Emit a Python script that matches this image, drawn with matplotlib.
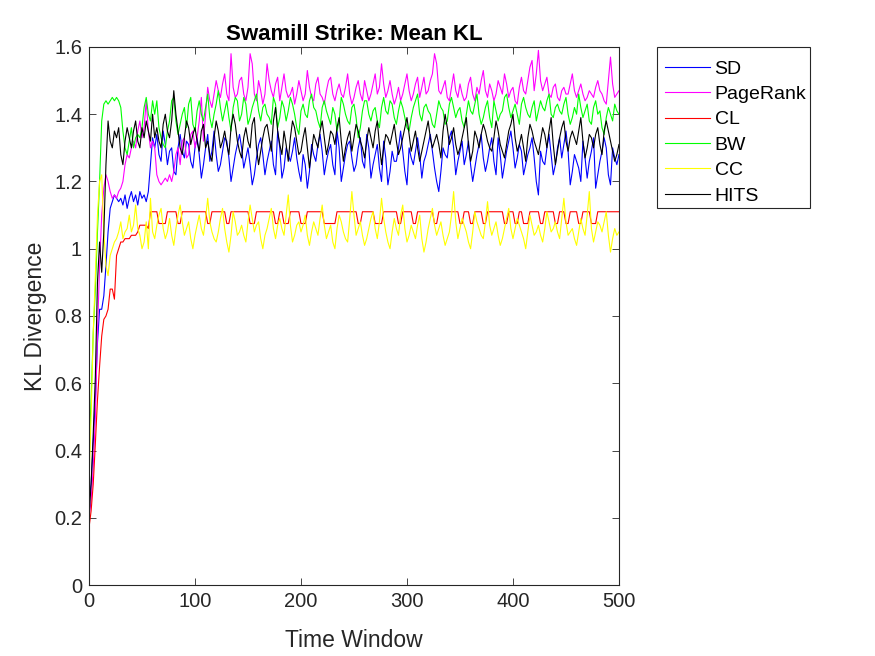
import matplotlib
matplotlib.use("Agg")
import matplotlib.pyplot as plt
from matplotlib.patches import Rectangle

plt.rcParams['font.family'] = ['Liberation Sans', 'DejaVu Sans']

# time windows, every second one
t = list(range(0, 501, 2))

H, L = 1.11, 1.075

sd = [0.25, 0.30, 0.42, 0.55, 0.72, 0.82, 0.82, 0.86, 0.95, 1.05, 1.12, 1.14, 1.16, 1.15, 1.14, 1.15,
      1.13, 1.16, 1.12, 1.15, 1.17, 1.14, 1.16, 1.13, 1.17, 1.15, 1.16, 1.14, 1.17, 1.25, 1.33,
      1.30, 1.34, 1.28, 1.26, 1.35, 1.31, 1.25, 1.29, 1.30, 1.23,
      1.22, 1.30, 1.34, 1.29, 1.27, 1.32, 1.31, 1.26, 1.24, 1.30,
      1.33, 1.28, 1.21, 1.25, 1.30, 1.34, 1.26, 1.29, 1.35, 1.28,
      1.23, 1.25, 1.29, 1.33, 1.32, 1.27, 1.20, 1.24, 1.28, 1.31,
      1.34, 1.30, 1.24, 1.27, 1.30, 1.25, 1.19, 1.22, 1.27, 1.31,
      1.33, 1.28, 1.22, 1.26, 1.29, 1.32, 1.25, 1.22, 1.35, 1.30,
      1.21, 1.24, 1.30, 1.28, 1.26, 1.29, 1.33, 1.27, 1.23, 1.20,
      1.28, 1.25, 1.18, 1.23, 1.31, 1.28, 1.26, 1.31, 1.34, 1.29,
      1.22, 1.26, 1.29, 1.31, 1.25, 1.22, 1.35, 1.30, 1.20, 1.24,
      1.28, 1.31, 1.32, 1.27, 1.23, 1.25, 1.30, 1.33, 1.26, 1.24,
      1.34, 1.30, 1.21, 1.25, 1.28, 1.31, 1.24, 1.20, 1.32, 1.27,
      1.19, 1.23, 1.29, 1.26, 1.26, 1.30, 1.35, 1.29, 1.23, 1.19,
      1.30, 1.27, 1.25, 1.29, 1.33, 1.28, 1.21, 1.26, 1.28, 1.31,
      1.34, 1.29, 1.24, 1.20, 1.17, 1.23, 1.30, 1.28, 1.27, 1.33,
      1.35, 1.30, 1.22, 1.26, 1.29, 1.32, 1.25, 1.28, 1.32, 1.25,
      1.20, 1.24, 1.28, 1.31, 1.34, 1.27, 1.23, 1.26, 1.30, 1.33,
      1.26, 1.22, 1.33, 1.28, 1.21, 1.25, 1.29, 1.32, 1.35, 1.30,
      1.24, 1.27, 1.31, 1.29, 1.22, 1.25, 1.28, 1.30, 1.33, 1.27,
      1.20, 1.16, 1.29, 1.26, 1.25, 1.30, 1.34, 1.28, 1.22, 1.25,
      1.30, 1.33, 1.27, 1.31, 1.35, 1.29, 1.19, 1.23, 1.28, 1.26,
      1.24, 1.20, 1.32, 1.27, 1.21, 1.26, 1.29, 1.33, 1.18, 1.22,
      1.26, 1.29, 1.33, 1.30, 1.22, 1.19, 1.30, 1.27, 1.25, 1.28]

pagerank = [0.20, 0.25, 0.35, 0.50, 0.75, 0.95, 1.10, 1.18, 1.22, 1.20, 1.17, 1.15, 1.16, 1.15, 1.17, 1.18,
            1.20, 1.25, 1.28, 1.27, 1.30, 1.32, 1.30, 1.35, 1.38, 1.33, 1.36, 1.44, 1.35, 1.30, 1.32,
            1.30, 1.22, 1.20, 1.19, 1.20, 1.21, 1.20, 1.22, 1.20, 1.23,
            1.28, 1.30, 1.25, 1.32, 1.33, 1.27, 1.28, 1.34, 1.35, 1.30,
            1.33, 1.38, 1.45, 1.32, 1.40, 1.48, 1.44, 1.42, 1.46, 1.50,
            1.47, 1.45, 1.49, 1.52, 1.46, 1.44, 1.58, 1.48, 1.45, 1.46,
            1.50, 1.51, 1.46, 1.44, 1.48, 1.58, 1.55, 1.46, 1.44, 1.50,
            1.47, 1.43, 1.46, 1.55, 1.50, 1.47, 1.45, 1.49, 1.51, 1.44,
            1.48, 1.52, 1.47, 1.45, 1.46, 1.48, 1.43, 1.46, 1.50, 1.47,
            1.44, 1.46, 1.53, 1.48, 1.45, 1.44, 1.49, 1.51, 1.46, 1.45,
            1.43, 1.47, 1.50, 1.51, 1.46, 1.44, 1.47, 1.49, 1.46, 1.45,
            1.48, 1.52, 1.46, 1.43, 1.45, 1.48, 1.50, 1.46, 1.44, 1.50,
            1.47, 1.44, 1.46, 1.49, 1.52, 1.46, 1.48, 1.55, 1.49, 1.45,
            1.47, 1.50, 1.46, 1.43, 1.45, 1.48, 1.44, 1.46, 1.49, 1.52,
            1.47, 1.44, 1.46, 1.49, 1.51, 1.45, 1.48, 1.51, 1.46, 1.47,
            1.50, 1.52, 1.58, 1.55, 1.47, 1.46, 1.48, 1.50, 1.45, 1.44,
            1.48, 1.52, 1.47, 1.45, 1.49, 1.46, 1.44, 1.45, 1.49, 1.51,
            1.46, 1.44, 1.48, 1.46, 1.50, 1.53, 1.47, 1.45, 1.49, 1.47,
            1.44, 1.46, 1.50, 1.48, 1.46, 1.52, 1.49, 1.45, 1.47, 1.48,
            1.44, 1.43, 1.48, 1.51, 1.47, 1.46, 1.50, 1.54, 1.56, 1.47,
            1.52, 1.59, 1.50, 1.47, 1.49, 1.51, 1.46, 1.45, 1.48, 1.49,
            1.45, 1.44, 1.47, 1.48, 1.46, 1.46, 1.49, 1.52, 1.47, 1.45,
            1.47, 1.49, 1.46, 1.44, 1.45, 1.47, 1.46, 1.45, 1.48, 1.50,
            1.47, 1.46, 1.44, 1.43, 1.50, 1.57, 1.49, 1.45, 1.46, 1.47]

cl = [0.17, 0.22, 0.30, 0.42, 0.55, 0.65, 0.74, 0.79, 0.80, 0.82, 0.88, 0.88, 0.85, 0.98, 1.00, 1.02,
      1.02, 1.03, 1.03, 1.03, 1.04, 1.04, 1.04, 1.05, 1.07, 1.07, 1.07, 1.07, 1.06, 1.11, 1.11,
      H, H, L, L, L, L, H, H, H, H,
      H, L, L, H, H, H, H, H, H, H,
      H, H, H, H, H, L, L, H, H, H,
      H, H, H, H, L, L, H, H, H, H,
      H, H, H, H, H, L, L, L, H, H,
      H, H, H, H, H, H, H, L, L, H,
      H, L, L, L, H, H, H, H, H, L,
      L, L, H, H, H, H, H, H, H, H,
      L, L, L, L, L, L, H, H, H, H,
      H, H, H, H, H, H, L, L, H, H,
      H, H, H, H, L, L, L, L, H, H,
      H, H, H, H, H, L, L, H, H, H,
      H, H, L, L, H, H, H, H, H, H,
      H, H, L, L, H, H, H, H, H, H,
      H, H, H, H, L, L, H, H, H, L,
      L, H, H, H, H, L, L, H, H, H,
      H, H, H, H, H, L, L, H, H, H,
      L, L, H, H, L, L, L, H, H, H,
      H, H, L, L, H, H, H, H, H, L,
      L, H, H, H, L, L, H, H, H, H,
      L, L, H, H, H, H, L, L, L, H,
      H, H, H, H, H, H, H, H, H, H]

bw = [0.40, 0.55, 0.75, 0.88, 1.05, 1.20, 1.38, 1.43, 1.44, 1.43, 1.44, 1.45, 1.44, 1.45, 1.44, 1.42,
      1.35, 1.30, 1.28, 1.32, 1.36, 1.30, 1.33, 1.34, 1.33, 1.36, 1.42, 1.45, 1.40, 1.38, 1.44,
      1.40, 1.44, 1.36, 1.33, 1.31, 1.30, 1.35, 1.38, 1.44, 1.45,
      1.38, 1.34, 1.37, 1.40, 1.42, 1.36, 1.43, 1.45, 1.37, 1.35,
      1.41, 1.44, 1.40, 1.38, 1.42, 1.46, 1.39, 1.36, 1.40, 1.43,
      1.47, 1.42, 1.38, 1.41, 1.44, 1.39, 1.35, 1.42, 1.45, 1.44,
      1.38, 1.40, 1.45, 1.43, 1.37, 1.39, 1.42, 1.44, 1.46, 1.41,
      1.38, 1.42, 1.43, 1.40, 1.39, 1.37, 1.45, 1.43, 1.36, 1.39,
      1.44, 1.42, 1.38, 1.41, 1.45, 1.43, 1.40, 1.36, 1.34, 1.41,
      1.43, 1.40, 1.39, 1.44, 1.46, 1.42, 1.41, 1.38, 1.36, 1.42,
      1.44, 1.41, 1.39, 1.37, 1.42, 1.40, 1.35, 1.38, 1.45, 1.43,
      1.40, 1.38, 1.37, 1.42, 1.43, 1.39, 1.33, 1.36, 1.41, 1.44,
      1.44, 1.40, 1.38, 1.41, 1.42, 1.38, 1.36, 1.42, 1.45, 1.41,
      1.40, 1.44, 1.43, 1.39, 1.37, 1.41, 1.44, 1.42, 1.39, 1.36,
      1.35, 1.39, 1.42, 1.44, 1.46, 1.40, 1.38, 1.42, 1.43, 1.41,
      1.40, 1.37, 1.36, 1.40, 1.44, 1.42, 1.41, 1.37, 1.38, 1.43,
      1.45, 1.42, 1.39, 1.41, 1.42, 1.38, 1.36, 1.40, 1.44, 1.41,
      1.40, 1.43, 1.46, 1.40, 1.37, 1.39, 1.42, 1.44, 1.39, 1.36,
      1.44, 1.41, 1.38, 1.40, 1.41, 1.45, 1.46, 1.42, 1.39, 1.41,
      1.43, 1.40, 1.37, 1.43, 1.45, 1.42, 1.40, 1.39, 1.42, 1.44,
      1.38, 1.41, 1.44, 1.42, 1.41, 1.44, 1.46, 1.40, 1.39, 1.42,
      1.43, 1.41, 1.40, 1.43, 1.45, 1.40, 1.37, 1.39, 1.42, 1.40,
      1.46, 1.42, 1.39, 1.41, 1.43, 1.38, 1.37, 1.42, 1.44, 1.40,
      1.41, 1.36, 1.34, 1.39, 1.42, 1.40, 1.38, 1.43, 1.41, 1.40]

cc = [0.30, 0.50, 0.75, 0.92, 1.10, 1.20, 1.22, 1.05, 0.95, 0.92, 0.98, 1.00, 1.02, 1.03, 1.05, 1.08,
      1.03, 1.05, 1.06, 1.10, 1.05, 1.07, 1.13, 1.06, 1.04, 1.00, 1.02, 1.08, 1.00, 1.15, 1.05,
      1.03, 1.07, 1.10, 1.12, 1.06, 1.03, 1.05, 1.09, 1.04, 1.01,
      1.06, 1.10, 1.13, 1.08, 1.04, 1.06, 1.08, 1.03, 1.00, 1.04,
      1.07, 1.10, 1.06, 1.04, 1.09, 1.15, 1.08, 1.05, 1.03, 1.02,
      1.05, 1.09, 1.12, 1.06, 1.02, 0.99, 1.04, 1.11, 1.08, 1.04,
      1.05, 1.07, 1.04, 1.02, 1.08, 1.13, 1.09, 1.05, 1.07, 1.08,
      1.03, 1.00, 1.04, 1.06, 1.09, 1.12, 1.06, 1.03, 1.07, 1.09,
      1.06, 1.04, 1.10, 1.16, 1.07, 1.02, 1.04, 1.07, 1.08, 1.05,
      1.07, 1.10, 1.04, 1.01, 1.05, 1.08, 1.06, 1.04, 1.09, 1.13,
      1.07, 1.03, 1.05, 1.07, 1.02, 1.00, 1.06, 1.10, 1.08, 1.05,
      1.03, 1.02, 1.09, 1.17, 1.10, 1.04, 1.06, 1.08, 1.04, 1.01,
      1.03, 1.06, 1.09, 1.11, 1.06, 1.03, 1.08, 1.15, 1.09, 1.05,
      1.02, 1.00, 1.05, 1.09, 1.06, 1.04, 1.10, 1.13, 1.06, 1.02,
      1.04, 1.07, 1.05, 1.03, 1.07, 1.10, 1.03, 0.99, 1.02, 1.06,
      1.09, 1.12, 1.07, 1.04, 1.06, 1.08, 1.04, 1.01, 1.03, 1.05,
      1.10, 1.17, 1.08, 1.03, 1.06, 1.09, 1.07, 1.05, 1.02, 1.00,
      1.05, 1.11, 1.08, 1.06, 1.04, 1.03, 1.08, 1.14, 1.07, 1.04,
      1.06, 1.08, 1.04, 1.01, 1.03, 1.06, 1.09, 1.12, 1.06, 1.03,
      1.06, 1.09, 1.07, 1.05, 1.03, 1.00, 1.05, 1.10, 1.07, 1.04,
      1.05, 1.07, 1.04, 1.02, 1.06, 1.11, 1.08, 1.05, 1.06, 1.08,
      1.05, 1.03, 1.09, 1.15, 1.08, 1.04, 1.05, 1.06, 1.03, 1.01,
      1.05, 1.09, 1.06, 1.04, 1.10, 1.17, 1.06, 1.02, 1.05, 1.08,
      1.07, 1.05, 1.08, 1.11, 1.04, 0.99, 1.03, 1.06, 1.04, 1.05]

hits = [0.20, 0.30, 0.45, 0.62, 0.90, 1.02, 0.93, 1.05, 1.25, 1.38, 1.32, 1.30, 1.35, 1.33, 1.36, 1.28,
        1.25, 1.32, 1.36, 1.33, 1.30, 1.35, 1.38, 1.32, 1.30, 1.36, 1.33, 1.38, 1.35, 1.32, 1.40,
        1.33, 1.36, 1.32, 1.30, 1.37, 1.40, 1.35, 1.33, 1.38, 1.47,
        1.40, 1.35, 1.30, 1.28, 1.33, 1.38, 1.36, 1.31, 1.34, 1.36,
        1.32, 1.29, 1.35, 1.37, 1.30, 1.32, 1.28, 1.26, 1.33, 1.38,
        1.35, 1.30, 1.32, 1.35, 1.31, 1.28, 1.36, 1.40, 1.37, 1.32,
        1.29, 1.27, 1.33, 1.36, 1.32, 1.30, 1.37, 1.39, 1.30, 1.25,
        1.29, 1.33, 1.36, 1.37, 1.33, 1.29, 1.38, 1.42, 1.35, 1.31,
        1.28, 1.35, 1.31, 1.26, 1.33, 1.38, 1.36, 1.32, 1.28, 1.29,
        1.33, 1.36, 1.30, 1.24, 1.29, 1.34, 1.32, 1.30, 1.35, 1.38,
        1.33, 1.28, 1.31, 1.35, 1.34, 1.31, 1.36, 1.39, 1.32, 1.26,
        1.30, 1.33, 1.35, 1.29, 1.33, 1.37, 1.35, 1.32, 1.30, 1.27,
        1.32, 1.36, 1.33, 1.30, 1.35, 1.38, 1.31, 1.25, 1.30, 1.34,
        1.33, 1.31, 1.34, 1.37, 1.32, 1.28, 1.30, 1.33, 1.36, 1.39,
        1.34, 1.29, 1.32, 1.35, 1.30, 1.26, 1.29, 1.32, 1.35, 1.38,
        1.33, 1.30, 1.32, 1.34, 1.31, 1.27, 1.35, 1.40, 1.36, 1.31,
        1.33, 1.36, 1.31, 1.28, 1.30, 1.33, 1.36, 1.39, 1.31, 1.26,
        1.29, 1.35, 1.33, 1.30, 1.34, 1.37, 1.35, 1.32, 1.30, 1.29,
        1.33, 1.38, 1.35, 1.31, 1.29, 1.27, 1.31, 1.35, 1.37, 1.40,
        1.33, 1.29, 1.31, 1.34, 1.30, 1.26, 1.33, 1.37, 1.35, 1.32,
        1.30, 1.28, 1.32, 1.36, 1.34, 1.30, 1.35, 1.39, 1.31, 1.25,
        1.29, 1.33, 1.36, 1.38, 1.32, 1.29, 1.33, 1.35, 1.33, 1.31,
        1.35, 1.39, 1.32, 1.27, 1.30, 1.34, 1.33, 1.30, 1.34, 1.36,
        1.31, 1.28, 1.35, 1.38, 1.35, 1.32, 1.29, 1.26, 1.28, 1.31]

names = ['SD', 'PageRank', 'CL', 'BW', 'CC', 'HITS']
series = [sd, pagerank, cl, bw, cc, hits]
colors = ['#0000ff', '#ff00ff', '#ff0000', '#00ff00', '#ffff00', '#000000']

fig = plt.figure(figsize=(8.75, 6.56), dpi=100)
ax = fig.add_axes([0.1017, 0.1082, 0.6057, 0.8202])

for name, ys, c in zip(names, series, colors):
    ax.plot(t, ys, color=c, lw=0.8, label=name)

ax.set_xlim(0, 500)
ax.set_ylim(0, 1.6)
ax.set_xticks([0, 100, 200, 300, 400, 500])
ax.set_yticks([0, 0.2, 0.4, 0.6, 0.8, 1.0, 1.2, 1.4, 1.6])
ax.set_yticklabels(['0', '0.2', '0.4', '0.6', '0.8', '1', '1.2', '1.4', '1.6'])
ax.tick_params(direction='in', top=True, right=True, length=5, width=0.6,
               labelsize=14.5, colors='#262626', pad=5)
for s in ax.spines.values():
    s.set_color('#262626')
    s.set_linewidth(0.8)

ax.set_title('Swamill Strike: Mean KL', fontsize=16, fontweight='bold', pad=5)
ax.set_xlabel('Time Window', fontsize=16.5, color='#262626', labelpad=13)
ax.set_ylabel('KL Divergence', fontsize=16.5, color='#262626', labelpad=5)

# legend entries without frame, box drawn separately (matlab-like padding)
leg = ax.legend(loc='upper left', bbox_to_anchor=(0.760, 0.9085), bbox_transform=fig.transFigure,
                fontsize=14, frameon=False, borderaxespad=0, handlelength=2.3,
                handletextpad=0.25, labelspacing=0.4, borderpad=0)
box = Rectangle((0.7509, 1 - 208 / 656), 0.1749, (208 - 47) / 656, transform=fig.transFigure,
                facecolor='none', edgecolor='#262626', lw=0.8)
fig.add_artist(box)

fig.savefig('out.png', dpi=100)
